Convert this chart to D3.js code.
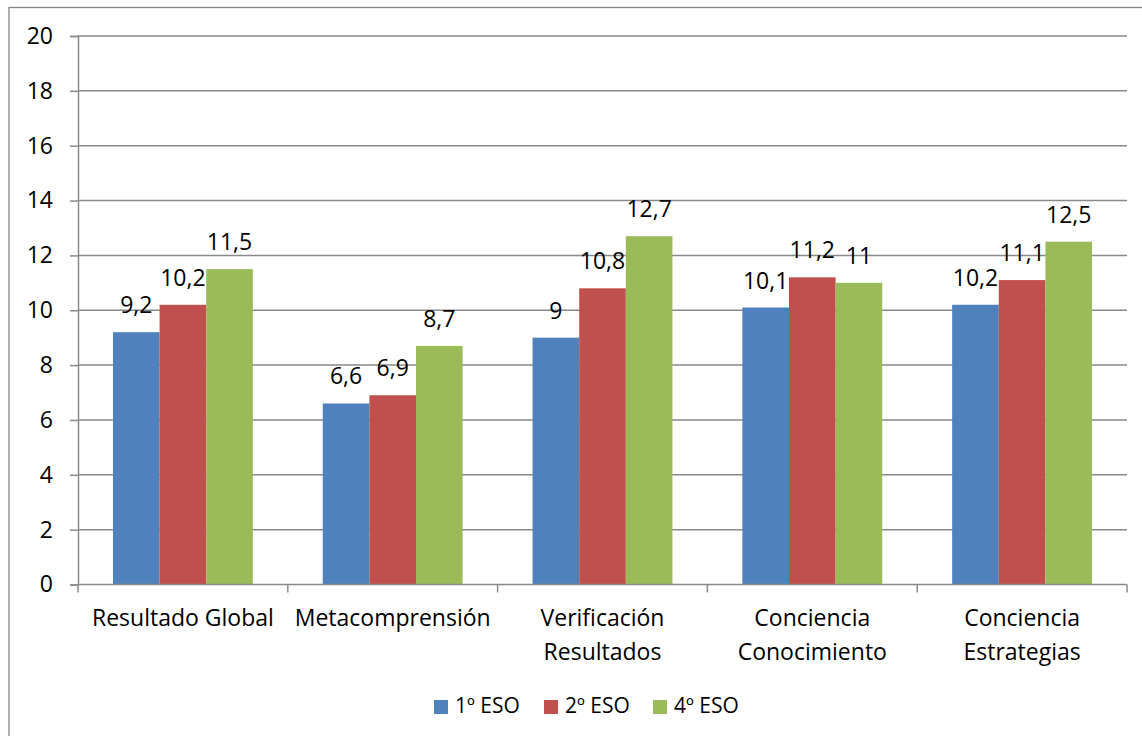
<!DOCTYPE html>
<html>
<head>
<meta charset="utf-8">
<script src="https://cdn.jsdelivr.net/npm/d3@7"></script>
<style>
  html, body { margin: 0; padding: 0; background: #ffffff; }
  svg { display: block; }
  text { font-family: "Open Sans", "Noto Sans", sans-serif; fill: #000; }
</style>
</head>
<body>
<svg id="chart" width="1142" height="736"></svg>
<script>
// Puntuaciones medias por dimensión y curso
const categories = [
  ["Resultado Global"],
  ["Metacomprensión"],
  ["Verificación", "Resultados"],
  ["Conciencia", "Conocimiento"],
  ["Conciencia", "Estrategias"]
];
const seriesNames = ["1º ESO", "2º ESO", "4º ESO"];
const eso1 = [9.2, 6.6, 9, 10.1, 10.2];
const eso2 = [10.2, 6.9, 10.8, 11.2, 11.1];
const eso4 = [11.5, 8.7, 12.7, 11, 12.5];
const yTicks = [0, 2, 4, 6, 8, 10, 12, 14, 16, 18, 20];
const colors = ["#4F81BD", "#C0504D", "#9BBB59"];

const seriesValues = [eso1, eso2, eso4];
const catKeys = categories.map(c => c.join(" "));

const svg = d3.select("#chart");
const plot = { left: 78, right: 1127, top: 36, bottom: 584.5 };
const fontSize = 23;

// Outer chart frame
svg.append("rect")
  .attr("x", 9).attr("y", 7.5)
  .attr("width", 1142).attr("height", 800)
  .attr("fill", "none").attr("stroke", "#868686").attr("stroke-width", 1.3);

const x0 = d3.scaleBand().domain(catKeys).range([plot.left, plot.right]).padding(0);
const bandW = x0.bandwidth();
const barW = bandW / 4.5;
const x1 = d3.scaleBand().domain(seriesNames)
  .range([0.75 * barW, 0.75 * barW + 3 * barW]).padding(0);
const y = d3.scaleLinear().domain([0, 20]).range([plot.bottom, plot.top]);

// Horizontal gridlines
svg.append("g").selectAll("line").data(yTicks.filter(t => t > 0)).join("line")
  .attr("x1", plot.left).attr("x2", plot.right)
  .attr("y1", d => y(d)).attr("y2", d => y(d))
  .attr("stroke", "#8a8a8a").attr("stroke-width", 1.5);

// Y axis
const yAxis = d3.axisLeft(y).tickValues(yTicks).tickSize(8).tickPadding(17)
  .tickFormat(d3.format("d"));
const gy = svg.append("g").attr("transform", `translate(${plot.left},0)`).call(yAxis);
gy.select(".domain").attr("stroke", "#8a8a8a").attr("stroke-width", 1.5);
gy.selectAll(".tick line").attr("stroke", "#8a8a8a").attr("stroke-width", 1.5);
gy.selectAll(".tick text").attr("font-size", fontSize)
  .attr("font-family", "Open Sans, Noto Sans, sans-serif").attr("fill", "#000");

// Bars
const groups = svg.append("g").selectAll("g").data(catKeys).join("g")
  .attr("transform", d => `translate(${x0(d)},0)`);

groups.selectAll("rect")
  .data((d, i) => seriesNames.map((s, j) => ({ s, j, v: seriesValues[j][i] })))
  .join("rect")
  .attr("x", d => x1(d.s))
  .attr("y", d => y(d.v))
  .attr("width", x1.bandwidth())
  .attr("height", d => y(0) - y(d.v))
  .attr("fill", d => colors[d.j]);

// Value labels
const fmt = v => String(v).replace(".", ",");
groups.selectAll("text.val")
  .data((d, i) => seriesNames.map((s, j) => ({ s, j, v: seriesValues[j][i] })))
  .join("text").attr("class", "val")
  .attr("x", d => x1(d.s) + x1.bandwidth() / 2)
  .attr("y", d => y(d.v) - 19)
  .attr("text-anchor", "middle")
  .attr("font-size", fontSize)
  .text(d => fmt(d.v));

// X axis line and category ticks
const gx = svg.append("g");
gx.append("line")
  .attr("x1", plot.left).attr("x2", plot.right)
  .attr("y1", plot.bottom).attr("y2", plot.bottom)
  .attr("stroke", "#8a8a8a").attr("stroke-width", 1.5);
const boundaries = catKeys.map(k => x0(k)).concat([plot.right]);
gx.selectAll("line.tk").data(boundaries).join("line").attr("class", "tk")
  .attr("x1", d => d).attr("x2", d => d)
  .attr("y1", plot.bottom).attr("y2", plot.bottom + 8)
  .attr("stroke", "#8a8a8a").attr("stroke-width", 1.5);

// Category labels
gx.selectAll("text.cat").data(categories).join("text").attr("class", "cat")
  .attr("text-anchor", "middle")
  .attr("font-size", fontSize)
  .each(function(lines, i) {
    const cx = x0(catKeys[i]) + bandW / 2;
    d3.select(this).selectAll("tspan").data(lines).join("tspan")
      .attr("x", cx)
      .attr("y", (d, k) => 626 + k * 34)
      .text(d => d);
  });

// Legend
const legendX = [434, 544, 653];
const lg = svg.append("g");
seriesNames.forEach((s, j) => {
  lg.append("rect").attr("x", legendX[j]).attr("y", 700)
    .attr("width", 14).attr("height", 14).attr("fill", colors[j]);
  lg.append("text").attr("x", legendX[j] + 21).attr("y", 713)
    .attr("font-size", 21).text(s);
});
</script>
</body>
</html>
